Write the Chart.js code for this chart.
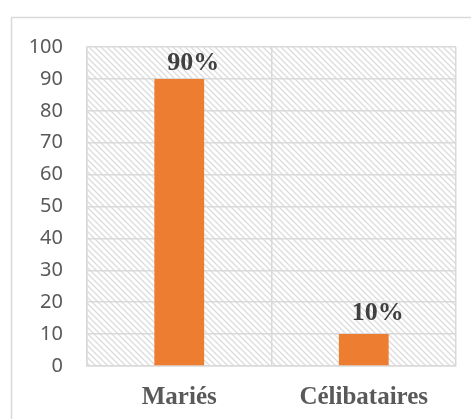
<!DOCTYPE html>
<html>
<head>
<meta charset="utf-8">
<script src="https://cdn.jsdelivr.net/npm/chart.js@4/dist/chart.umd.min.js"></script>
<style>
  html, body { margin: 0; padding: 0; background: #fff; }
  #chart { display: block; }
</style>
</head>
<body>
<canvas id="chart" width="471" height="419"></canvas>
<script>
const categories = ['Mariés', 'Célibataires'];
const values = [90, 10];
const valueLabels = ['90%', '10%'];
const yTicks = [0, 10, 20, 30, 40, 50, 60, 70, 80, 90, 100];

const gridColor = '#d9d9d9';

// hachures diagonales du fond de la zone de tracé
function makeHatch() {
    const c = document.createElement('canvas');
    c.width = 6;
    c.height = 6;
    const g = c.getContext('2d');
    g.strokeStyle = '#dcdcdc';
    g.lineWidth = 1.3;
    g.beginPath();
    g.moveTo(-1, -1); g.lineTo(7, 7);
    g.moveTo(-1, 5); g.lineTo(1, 7);
    g.moveTo(5, -1); g.lineTo(7, 1);
    g.stroke();
    return c;
}

const fondPlugin = {
    id: 'fond',
    beforeDraw(chart) {
        const { ctx, chartArea: a } = chart;
        ctx.save();
        // cadre extérieur (partiellement coupé)
        ctx.strokeStyle = gridColor;
        ctx.lineWidth = 1.5;
        ctx.beginPath();
        ctx.moveTo(11.5, chart.height);
        ctx.lineTo(11.5, 17.5);
        ctx.lineTo(chart.width, 17.5);
        ctx.stroke();
        ctx.fillStyle = ctx.createPattern(makeHatch(), 'repeat');
        ctx.fillRect(a.left, a.top, a.right - a.left, a.bottom - a.top);
        ctx.restore();
    }
};

const etiquettesPlugin = {
    id: 'etiquettes',
    afterDatasetsDraw(chart) {
        const { ctx } = chart;
        const meta = chart.getDatasetMeta(0);
        ctx.save();
        ctx.font = 'bold 26px "Liberation Serif"';
        ctx.fillStyle = '#404040';
        ctx.textAlign = 'center';
        ctx.textBaseline = 'bottom';
        meta.data.forEach((bar, i) => {
            ctx.fillText(valueLabels[i], bar.x + 14, bar.y - 3 - (i === 1 ? 5 : 0));
        });
        ctx.restore();
    }
};

new Chart(document.getElementById('chart'), {
    type: 'bar',
    data: {
        labels: categories,
        datasets: [{
            data: values,
            backgroundColor: '#ED7D31',
            borderWidth: 0,
            barPercentage: 0.27,
            categoryPercentage: 1
        }]
    },
    options: {
        responsive: false,
        animation: false,
        events: [],
        layout: { padding: { left: 0, top: 47, right: 15, bottom: 0 } },
        plugins: {
            legend: { display: false },
            tooltip: { enabled: false }
        },
        scales: {
            x: {
                offset: true,
                afterFit(scale) { scale.height = 53; },
                grid: { color: gridColor, lineWidth: 1.5, drawTicks: false, offset: true },
                border: { display: true, color: gridColor, width: 1.5 },
                ticks: {
                    padding: 17,
                    color: '#595959',
                    font: { family: 'Liberation Serif', size: 25, weight: 'bold' }
                }
            },
            y: {
                min: 0,
                max: 100,
                afterFit(scale) { scale.width = 87; },
                afterBuildTicks(scale) { scale.ticks = yTicks.map(v => ({ value: v })); },
                grid: { color: gridColor, lineWidth: 1.5, drawTicks: false },
                border: { display: true, color: gridColor, width: 1.5 },
                ticks: {
                    padding: 24,
                    color: '#595959',
                    font: { family: 'Noto Sans', size: 20 }
                }
            }
        }
    },
    plugins: [fondPlugin, etiquettesPlugin]
});
</script>
</body>
</html>
